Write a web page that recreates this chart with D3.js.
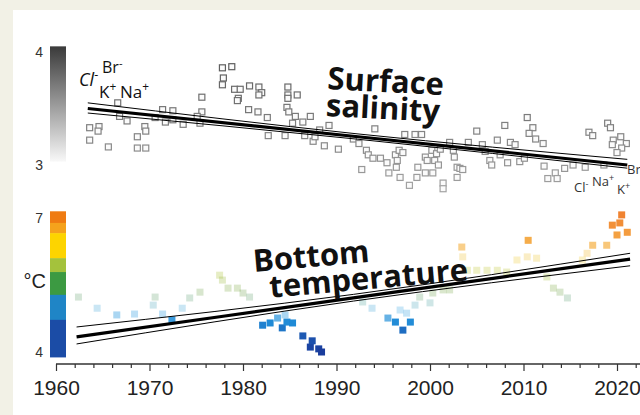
<!DOCTYPE html>
<html>
<head>
<meta charset="utf-8">
<script src="https://cdn.jsdelivr.net/npm/d3@7"></script>
<style>
  body { margin: 0; background: #f2f1e6; }
  svg { display: block; }
</style>
</head>
<body>
<div id="chart"></div>
<script>
// surface salinity samples (year, value)
var salYears = [1966.6,1971.4,1972.5,1975.6,1975.6,1966.8,1967.6,1970.6,1971.7,1972.5,1973.6,1975.1,1975.4,1963.6,1964.6,1964.5,1963.6,1965.6,1968.7,1969.5,1969.6,1968.7,1969.6,
  1977.8,1978.8,1977.9,1977.8,1979.1,1979.7,1979.5,1979.4,1980.7,1981.7,1982.0,1981.7,1984.8,1984.8,1985.8,1984.8,1984.7,1984.9,1985.6,1985.3,1986.4,1987.2,1980.6,1981.6,1982.6,
  1982.7,1984.5,1986.6,1987.5,1987.7,1988.2,1988.7,1989.2,1990.2,1991.8,1992.4,1992.7,1993.2,1993.4,1993.9,1994.7,1994.1,1995.4,1995.6,1996.3,1996.5,1996.4,1996.7,1997.1,1996.8,1997.8,1997.3,1998.4,1998.7,1998.6,
  1999.1,1999.5,1999.7,1999.5,2000.3,2000.2,2000.7,2000.5,2000.9,2001.1,2001.4,2001.4,2002.1,2002.5,2002.6,2002.9,2003.2,2003.5,2002.9,2004.1,2005.0,2005.6,2005.9,2006.4,2006.6,2007.2,2007.5,2008.3,2008.0,2008.6,2009.1,2009.6,2010.1,2010.4,2011.0,2010.6,2011.3,2012.1,2012.2,2012.6,2013.4,2013.6,2014.4,2015.3,2016.6,2017.0,2017.4,2018.6,2019.0,2019.3,2019.6,2019.5,2020.4,2021.0,2020.5,2020.0];
var salValues = [3.55,3.49,3.48,3.60,3.47,3.43,3.39,3.42,3.38,3.40,3.36,3.43,3.37,3.33,3.34,3.30,3.22,3.16,3.25,3.34,3.30,3.15,3.15,
  3.86,3.87,3.77,3.71,3.67,3.67,3.59,3.57,3.70,3.69,3.64,3.62,3.69,3.62,3.62,3.59,3.51,3.47,3.43,3.37,3.38,3.43,3.49,3.47,3.42,
  3.26,3.26,3.26,3.21,3.25,3.31,3.17,3.35,3.14,3.23,3.19,2.96,3.13,3.09,3.06,3.06,3.32,3.02,2.93,3.09,3.04,2.98,3.13,3.11,2.89,2.82,3.27,3.27,2.98,2.89,
  3.27,3.07,3.04,2.93,2.93,3.13,3.10,3.04,3.00,3.14,2.84,2.79,3.20,3.13,3.07,2.98,2.97,2.96,2.89,3.20,3.30,3.18,3.12,3.04,3.00,3.22,3.09,3.02,3.35,3.20,3.18,3.03,3.06,3.42,3.33,3.28,3.23,3.19,2.99,2.88,2.93,2.88,2.97,3.00,2.98,3.29,3.26,3.00,3.37,3.33,3.22,3.18,3.25,3.19,3.15,3.11];

// bottom temperature samples (year, degC)
var tempYears = [1962.4,1964.4,1966.5,1968.4,1970.4,1970.6,1971.4,1972.4,1973.5,1974.3,1975.4,1977.5,1977.8,1978.4,1979.4,1980.0,1980.7,
  1982.1,1982.9,1983.7,1984.2,1984.5,1984.7,1985.3,1986.4,1987.2,1987.4,1988.1,1988.4,
  1992.8,1993.8,1995.5,1996.3,1996.8,1997.1,1997.5,1997.9,1998.4,1998.9,2000.0,2000.3,2001.4,2002.1,
  2003.4,2003.5,2004.0,2005.0,2006.1,2007.2,2008.2,2009.3,2010.5,2010.4,2011.4,2012.5,2013.2,2013.9,2014.7,
  2016.3,2016.8,2017.4,2018.9,2019.5,2020.0,2020.3,2020.5,2021.1];
var tempValues = [5.23,4.98,4.83,4.85,5.05,5.23,4.85,4.72,4.98,5.21,5.34,5.72,5.61,5.43,5.43,5.32,5.23,
  4.60,4.65,4.76,4.54,4.83,4.67,4.65,4.36,4.11,4.25,4.07,4.00,
  5.12,4.98,4.76,4.67,4.94,4.49,4.87,4.67,5.05,5.23,5.10,5.32,5.39,5.39,
  6.35,6.13,5.83,5.83,5.83,5.83,5.79,6.06,6.50,6.13,6.10,5.68,5.43,5.34,5.21,
  6.06,6.21,6.39,6.39,6.84,6.62,6.89,7.07,6.68];

// regression lines with their bands
var salTrendYears = [1963.4, 1992.3, 2021.1];
var salTrend = [3.50, 3.25, 3.00];
var salUpper = [3.55, 3.275, 3.05];
var salLower = [3.46, 3.228, 2.972];
var tempTrendYears = [1962.2, 1991.8, 2021.4];
var tempTrend = [4.34, 5.21, 6.08];
var tempUpper = [4.56, 5.29, 6.21];
var tempLower = [4.18, 5.14, 5.93];

var yearTicks = d3.range(1960, 2023, 2);
var salTicks = [4, 3];
var tempTicks = [7, 4];
var tempBandEdges = [7.15, 6.89, 6.66, 6.10, 5.79, 5.28, 4.72, 3.89];

var width = 640, height = 415;

var svg = d3.select("#chart").append("svg")
  .attr("width", width)
  .attr("height", height);

svg.append("rect")
  .attr("x", 13).attr("y", 10)
  .attr("width", width - 13).attr("height", height - 10)
  .attr("fill", "#ffffff");

var x = d3.scaleLinear().domain([1960, 2020]).range([56, 617]);
var ySal = d3.scaleLinear().domain([3, 4]).range([165, 52]);
var yTemp = d3.scaleLinear().domain([4, 7]).range([352, 218]);

var salStroke = d3.scaleLinear().domain([2.8, 3.9]).range(["#a2a2a2", "#5c5c5c"]);
var tempColor = d3.scaleLinear()
  .domain([4.0, 4.4, 4.65, 4.95, 5.3, 5.7, 6.0, 6.35, 6.7, 7.0])
  .range(["#1a3c9c", "#1d5cb6", "#1f8ad6", "#4aaee6", "#7aa860", "#a8c23c", "#ecd444", "#f4ac34", "#f2891c", "#ee7210"]);
var tempAlpha = d3.scaleLinear().domain([4.7, 4.86, 6.2, 6.5]).range([1, 0.3, 0.3, 0.85]).clamp(true);
var bandColors = ["#ef7b12", "#f5a21c", "#fdd400", "#a4c23c", "#3c9a42", "#1f85c6", "#1b4ca6"];

// ---- colour bars ----
var grad = svg.append("defs").append("linearGradient")
  .attr("id", "greyBar").attr("x1", 0).attr("x2", 0).attr("y1", 0).attr("y2", 1);
[[0, "#3a3a3a"], [0.25, "#6a6a6a"], [0.5, "#999"], [0.75, "#c8c8c8"], [1, "#f8f8f8"]].forEach(function(s) {
  grad.append("stop").attr("offset", s[0]).attr("stop-color", s[1]);
});
svg.append("rect")
  .attr("x", 50).attr("width", 16)
  .attr("y", ySal(4.05)).attr("height", ySal(3.03) - ySal(4.05))
  .attr("fill", "url(#greyBar)");

svg.selectAll(".tband")
  .data(d3.pairs(tempBandEdges))
  .enter().append("rect")
  .attr("class", "tband")
  .attr("x", 50).attr("width", 16)
  .attr("y", function(d) { return yTemp(d[0]); })
  .attr("height", function(d) { return yTemp(d[1]) - yTemp(d[0]) + 0.5; })
  .attr("fill", function(d, i) { return bandColors[i]; });

svg.selectAll(".salTick")
  .data(salTicks)
  .enter().append("text")
  .attr("x", 43).attr("y", function(d) { return ySal(d) + 5; })
  .attr("text-anchor", "end")
  .style("font", "14px 'Liberation Sans', Arial, sans-serif")
  .attr("fill", "#333")
  .text(function(d) { return d; });

svg.selectAll(".tempTick")
  .data(tempTicks)
  .enter().append("text")
  .attr("x", 43).attr("y", function(d) { return yTemp(d) + 5; })
  .attr("text-anchor", "end")
  .style("font", "14px 'Liberation Sans', Arial, sans-serif")
  .attr("fill", "#333")
  .text(function(d) { return d; });

svg.append("text")
  .attr("x", 46).attr("y", 288)
  .attr("text-anchor", "end")
  .style("font", "20px 'Liberation Sans', Arial, sans-serif")
  .attr("fill", "#222")
  .text("°C");

// ---- points ----
var salPts = salYears.map(function(y, i) { return { year: y, v: salValues[i] }; });
var tempPts = tempYears.map(function(y, i) { return { year: y, v: tempValues[i] }; });

svg.selectAll(".sal")
  .data(salPts)
  .enter().append("rect")
  .attr("class", "sal")
  .attr("x", function(d) { return x(d.year) - 3; })
  .attr("y", function(d) { return ySal(d.v) - 3; })
  .attr("width", 6).attr("height", 6)
  .attr("fill", "#fbfbfb")
  .attr("stroke", function(d) { return salStroke(d.v); })
  .attr("stroke-width", 1.2);

svg.selectAll(".temp")
  .data(tempPts)
  .enter().append("rect")
  .attr("class", "temp")
  .attr("x", function(d) { return x(d.year) - 3.5; })
  .attr("y", function(d) { return yTemp(d.v) - 3.5; })
  .attr("width", 7).attr("height", 7)
  .attr("fill", function(d) { return tempColor(d.v); })
  .attr("fill-opacity", function(d) { return tempAlpha(d.v); });

// ---- trend lines ----
function drawTrend(years, vals, yScale, w) {
  var line = d3.line()
    .x(function(d, i) { return x(years[i]); })
    .y(function(d) { return yScale(d); })
    .curve(d3.curveNatural);
  svg.append("path")
    .attr("d", line(vals))
    .attr("fill", "none")
    .attr("stroke", "#000")
    .attr("stroke-width", w);
}
drawTrend(salTrendYears, salUpper, ySal, 1);
drawTrend(salTrendYears, salLower, ySal, 1);
drawTrend(salTrendYears, salTrend, ySal, 3.2);
drawTrend(tempTrendYears, tempUpper, yTemp, 1);
drawTrend(tempTrendYears, tempLower, yTemp, 1);
drawTrend(tempTrendYears, tempTrend, yTemp, 3.2);

// ---- x axis ----
var axisY = 364;
var xAxis = d3.axisBottom(x)
  .tickValues(yearTicks)
  .tickSize(7)
  .tickPadding(9)
  .tickFormat(function(d) { return d % 10 === 0 ? d : ""; });

var gx = svg.append("g")
  .attr("transform", "translate(0," + axisY + ")")
  .call(xAxis);
gx.select(".domain").remove();
gx.selectAll(".tick line")
  .attr("stroke", "#333")
  .attr("stroke-width", 1.2)
  .attr("y2", function(d) { return d % 10 === 0 ? 7 : 4; });
gx.selectAll(".tick text")
  .attr("fill", "#222")
  .style("font", "21px 'Liberation Sans', Arial, sans-serif");
gx.append("line")
  .attr("x1", x(1960)).attr("x2", width)
  .attr("stroke", "#333").attr("stroke-width", 1.3);

// ---- labels ----
var titleFont = "700 31px 'Open Sans', sans-serif";
var sal = svg.append("g").attr("transform", "translate(327,89) rotate(3)");
sal.append("text").style("font", titleFont).attr("fill", "#111").text("Surface");
sal.append("text").attr("y", 27).style("font", titleFont).attr("fill", "#111").text("salinity");

var tmp = svg.append("g").attr("transform", "translate(254,272) rotate(-5)");
tmp.append("text").style("font", titleFont).attr("fill", "#111").text("Bottom");
tmp.append("text").attr("x", 14).attr("y", 27).style("font", titleFont).attr("fill", "#111").text("temperature");

function ion(gx, gy, base, sign, size, color, italic) {
  var t = svg.append("text")
    .attr("x", gx).attr("y", gy)
    .style("font", (italic ? "italic " : "") + size + "px 'Open Sans', sans-serif")
    .attr("fill", color);
  t.append("tspan").text(base);
  t.append("tspan").attr("dy", -size * 0.4).style("font-size", (size * 0.7) + "px").style("font-style", "normal").text(sign);
}
ion(79, 86, "Cl", "-", 18, "#111", true);
ion(102, 73, "Br", "-", 16, "#111", false);
ion(99, 98, "K", "+", 17, "#111", false);
ion(120, 98, "Na", "+", 17, "#111", false);

ion(627, 174, "Br", "", 13, "#333", false);
ion(574, 192, "Cl", "-", 13, "#333", false);
ion(592, 186, "Na", "+", 13, "#333", false);
ion(617, 194, "K", "+", 13, "#333", false);
</script>
</body>
</html>
